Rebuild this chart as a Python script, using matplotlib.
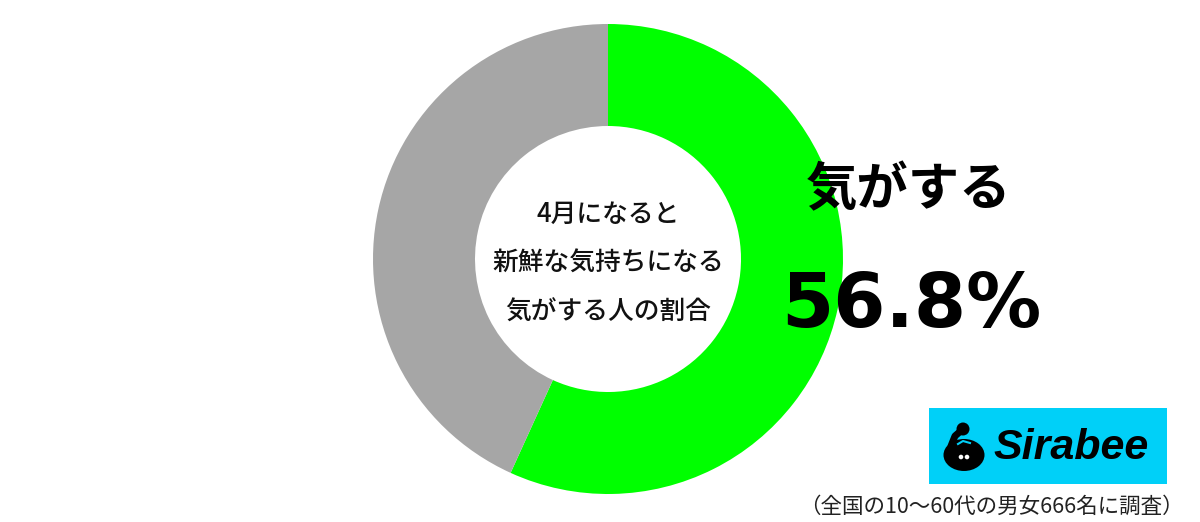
import matplotlib
matplotlib.use("Agg")
import matplotlib.pyplot as plt
from matplotlib.patches import Rectangle, Circle, Ellipse

plt.rcParams['font.family'] = ['Noto Sans CJK JP', 'DejaVu Sans']

# data
labels = ['気がする', 'しない']
values = [56.8, 43.2]
colors = ['#00ff00', '#a6a6a6']
center_title = ['4月になると', '新鮮な気持ちになる', '気がする人の割合']
note = '（全国の10〜60代の男女666名に調査）'

W, H = 1200, 522
fig = plt.figure(figsize=(W / 100, H / 100), dpi=100)
ax = fig.add_axes([0, 0, 1, 1])

# donut
cx, cy, r_out, r_in = 608, H - 259, 235, 133
ax.pie(values, colors=colors, startangle=90, counterclock=False,
       center=(cx, cy), radius=r_out, frame=True,
       wedgeprops=dict(width=r_out - r_in, linewidth=0))
ax.set_xlim(0, W)
ax.set_ylim(0, H)
ax.set_aspect('equal')
ax.axis('off')

# centre text
for i, line in enumerate(center_title):
    ax.text(cx, H - 214 - i * 49, line, ha='center', va='center',
            fontsize=18.5, fontweight='medium', color='#111111')

# big label
ax.text(909, H - 190, labels[0], ha='center', va='center',
        fontsize=37, fontweight='bold', color='black')
ax.text(911, H - 307, f'{values[0]}%', ha='center', va='center',
        fontsize=54, fontweight='bold', color='black',
        family=['DejaVu Sans'])

# logo
ax.add_patch(Rectangle((929, H - 484), 238, 76, color='#00d0f8', lw=0))
ax.add_patch(Ellipse((964, H - 455), 41, 32, color='black', lw=0))
ax.add_patch(Circle((963, H - 429), 6.5, color='black', lw=0))
ax.plot([963, 955, 951], [H - 429, H - 436, H - 446], color='black', lw=5,
        solid_capstyle='round')
ax.plot([958, 963, 970], [H - 444, H - 441, H - 443], color='#00d0f8', lw=1.5)
ax.add_patch(Circle((961, H - 457), 2.3, color='white', lw=0))
ax.add_patch(Circle((967, H - 457), 2.3, color='white', lw=0))
ax.text(1071, H - 448, 'Sirabee', ha='center', va='center', fontsize=31,
        fontweight='bold', style='italic', color='black',
        family=['Liberation Sans', 'DejaVu Sans'])

# note
ax.text(1184, H - 507, note, ha='right', va='center', fontsize=15.5,
        color='#222222')

fig.savefig('out.png', dpi=100)
